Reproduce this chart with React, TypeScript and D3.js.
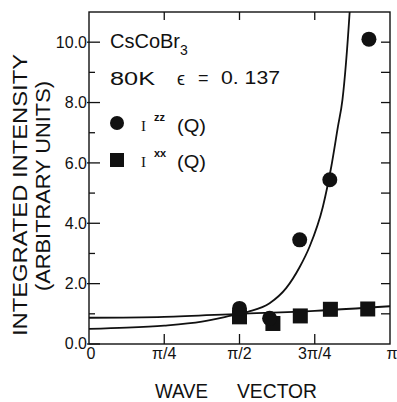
import * as d3 from 'd3'

// wave vector in units of pi, intensity in arbitrary units
const izzPoints: [number, number][] = [
  [0.5, 1.18], [0.6, 0.85], [0.7, 3.45], [0.8, 5.44], [0.93, 10.1],
]
const ixxPoints: [number, number][] = [
  [0.5, 0.9], [0.611, 0.68], [0.702, 0.93], [0.802, 1.15], [0.926, 1.16],
]
const izzCurve: [number, number][] = [
  [0, 0.5], [0.125, 0.54], [0.25, 0.61], [0.375, 0.74], [0.472, 0.94], [0.53, 1.07],
  [0.6, 1.35], [0.655, 1.85], [0.7, 2.55], [0.733, 3.23], [0.777, 4.55], [0.805, 5.88],
  [0.827, 7.2], [0.842, 8.09], [0.866, 11.0], [0.875, 12.5],
]
const ixxCurve: [number, number][] = [
  [0, 0.87], [0.25, 0.9], [0.5, 1.0], [0.75, 1.1], [1.0, 1.25],
]
const yLabels = [0, 2, 4, 6, 8, 10]
const yMinor = [1, 3, 5, 7, 9]
const yRight = [1, 2, 3, 4, 5, 6, 7, 8, 9, 10]
const xTicks = [0.25, 0.5, 0.75]
const xLabels: [number, string][] = [[0, '0'], [0.25, 'π/4'], [0.5, 'π/2'], [0.75, '3π/4'], [1, 'π']]

const W = 397
const H = 402
const margin = { top: 12, right: 7, bottom: 58, left: 89 }
const font = '"Liberation Sans", Arial, sans-serif'
const serif = '"Liberation Serif", serif'

export default function App() {
  const x = d3.scaleLinear().domain([0, 1]).range([margin.left, W - margin.right])
  const y = d3.scaleLinear().domain([0, 11]).range([H - margin.bottom, margin.top])
  const [x0, x1] = x.range()
  const [y0, y1] = y.range()

  const line = d3.line<[number, number]>()
    .x(d => x(d[0]))
    .y(d => y(d[1]))
    .curve(d3.curveMonotoneX)

  return (
    <div style={{ position: 'absolute', left: 0, top: 0 }}>
      <svg width={W} height={H} style={{ display: 'block', background: '#fff' }}>
        <defs>
          <clipPath id="plot">
            <rect x={x0} y={y1} width={x1 - x0} height={y0 - y1} />
          </clipPath>
        </defs>

        {/* curves */}
        <g clipPath="url(#plot)" fill="none" stroke="#111" strokeWidth={1.8}>
          <path d={line(ixxCurve) ?? ''} />
          <path d={line(izzCurve) ?? ''} />
        </g>

        {/* frame */}
        <rect x={x0} y={y1} width={x1 - x0} height={y0 - y1} fill="none" stroke="#111" strokeWidth={1.4} />

        {/* ticks */}
        <g stroke="#111" strokeWidth={1.3}>
          {yLabels.map(v => <line key={'l' + v} x1={x0 - 2} x2={x0 + 11} y1={y(v)} y2={y(v)} />)}
          {yMinor.map(v => <line key={'m' + v} x1={x0} x2={x0 + 6} y1={y(v)} y2={y(v)} />)}
          {yRight.map(v => <line key={'r' + v} x1={x1 - 9} x2={x1} y1={y(v)} y2={y(v)} />)}
          {xTicks.map(v => <line key={'b' + v} x1={x(v)} x2={x(v)} y1={y0} y2={y0 - 10} />)}
          {xTicks.map(v => <line key={'t' + v} x1={x(v)} x2={x(v)} y1={y1} y2={y1 + 8} />)}
        </g>

        {/* y tick labels */}
        <g fontFamily={font} fontSize={16} fill="#111" textAnchor="end">
          {yLabels.map(v => (
            <text key={v} x={x0 - 2} y={y(v)} dy={v === 0 ? '0.3em' : '0.36em'}>{v.toFixed(1)}</text>
          ))}
        </g>

        {/* x tick labels */}
        <g fontFamily={font} fontSize={16} fill="#111" textAnchor="middle">
          {xLabels.map(([v, s]) => (
            <text key={s} x={x(v) + (v === 1 ? 2 : v === 0 ? 2 : 0)} y={359}>{s}</text>
          ))}
        </g>

        {/* axis titles */}
        <g fontFamily={font} fontSize={20} fill="#111">
          <text x={155} y={398} textLength={53} lengthAdjust="spacingAndGlyphs">WAVE</text>
          <text x={237} y={398} textLength={80} lengthAdjust="spacingAndGlyphs">VECTOR</text>
          <text transform="translate(27,195) rotate(-90)" textAnchor="middle"
            textLength={282} lengthAdjust="spacingAndGlyphs">INTEGRATED  INTENSITY</text>
          <text transform="translate(50,186) rotate(-90)" textAnchor="middle"
            textLength={210} lengthAdjust="spacingAndGlyphs">(ARBITRARY  UNITS)</text>
        </g>

        {/* annotations */}
        <g fontFamily={font} fill="#111">
          <text x={110} y={48} fontSize={20} textLength={70} lengthAdjust="spacingAndGlyphs">CsCoBr</text>
          <text x={180} y={55} fontSize={14}>3</text>
          <text x={110} y={85} fontSize={18} textLength={45} lengthAdjust="spacingAndGlyphs">80K</text>
          <text x={177} y={85} fontSize={18}>ϵ</text>
          <text x={198} y={84} fontSize={18}>=</text>
          <text x={221} y={84} fontSize={18} textLength={59} lengthAdjust="spacingAndGlyphs">0. 137</text>
        </g>

        {/* legend */}
        <circle cx={117} cy={123} r={7} fill="#111" />
        <rect x={110} y={153} width={14} height={14} fill="#111" />
        <g fill="#111">
          <text x={141} y={131} fontFamily={serif} fontSize={15}>I</text>
          <text x={154} y={121} fontFamily={font} fontSize={11} fontWeight="bold">zz</text>
          <text x={177} y={132} fontFamily={font} fontSize={18} textLength={29} lengthAdjust="spacingAndGlyphs">(Q)</text>
          <text x={141} y={167} fontFamily={serif} fontSize={15}>I</text>
          <text x={154} y={157} fontFamily={font} fontSize={11} fontWeight="bold">xx</text>
          <text x={177} y={168} fontFamily={font} fontSize={18} textLength={29} lengthAdjust="spacingAndGlyphs">(Q)</text>
        </g>

        {/* data points */}
        <g fill="#111">
          {ixxPoints.map(([q, v], i) => (
            <rect key={'s' + i} x={x(q) - 7.5} y={y(v) - 7.5} width={15} height={15} />
          ))}
          {izzPoints.map(([q, v], i) => (
            <circle key={'c' + i} cx={x(q)} cy={y(v)} r={7.5} />
          ))}
        </g>
      </svg>
    </div>
  )
}
